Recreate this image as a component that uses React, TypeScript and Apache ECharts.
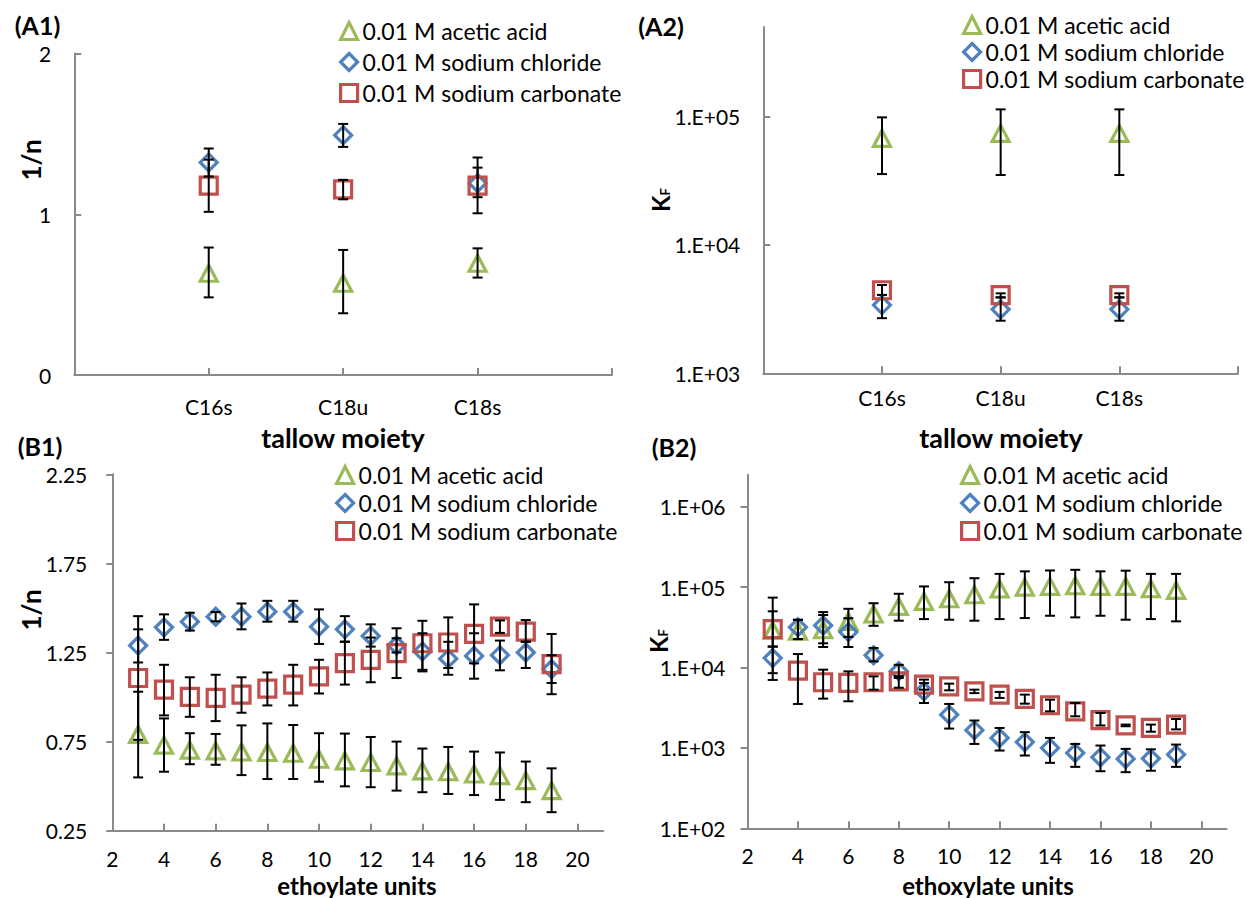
import React, { useEffect, useRef } from 'react';
import * as echarts from 'echarts';

const FONT = 'Lato';
const AXIS_COLOR = '#8a8a8a';

const SERIES_NAMES = ['0.01 M acetic acid', '0.01 M sodium chloride', '0.01 M sodium carbonate'];
const COLORS = ['#9BBB59', '#4F81BD', '#C0504D'];
const SYMBOLS = ['triangle', 'diamond', 'rect'];

// ---- Panel A1 / A2: tallow moiety ----
const MOIETIES = ['C16s', 'C18u', 'C18s'];
const MOIETY_POS = [1, 2, 3];

const A1_ACETIC = [0.633, 0.571, 0.695];
const A1_ACETIC_LO = [0.483, 0.384, 0.606];
const A1_ACETIC_HI = [0.793, 0.778, 0.788];
const A1_NACL = [1.322, 1.492, 1.193];
const A1_NACL_LO = [1.235, 1.419, 1.106];
const A1_NACL_HI = [1.409, 1.562, 1.29];
const A1_NA2CO3 = [1.178, 1.155, 1.178];
const A1_NA2CO3_LO = [1.015, 1.093, 1.006];
const A1_NA2CO3_HI = [1.34, 1.214, 1.353];

const A2_ACETIC = [67800, 74100, 74100];
const A2_ACETIC_LO = [35700, 35100, 35100];
const A2_ACETIC_HI = [98800, 114000, 114000];
const A2_NACL = [3400, 3150, 3150];
const A2_NACL_LO = [2690, 2570, 2570];
const A2_NACL_HI = [4080, 3900, 3900];
const A2_NA2CO3 = [4440, 4070, 4070];
const A2_NA2CO3_LO = [4080, 3910, 3910];
const A2_NA2CO3_HI = [4880, 4200, 4200];

// ---- Panel B1 / B2: ethoxylate units ----
const EO_UNITS = [3, 4, 5, 6, 7, 8, 9, 10, 11, 12, 13, 14, 15, 16, 17, 18, 19];

const B1_ACETIC = [0.79, 0.73, 0.702, 0.698, 0.692, 0.689, 0.685, 0.651, 0.642, 0.633, 0.614, 0.586, 0.581, 0.568, 0.559, 0.531, 0.475];
const B1_ACETIC_LO = [0.549, 0.581, 0.623, 0.62, 0.562, 0.54, 0.54, 0.525, 0.499, 0.494, 0.475, 0.466, 0.456, 0.45, 0.423, 0.41, 0.354];
const B1_ACETIC_HI = [1.03, 0.88, 0.797, 0.793, 0.841, 0.852, 0.843, 0.797, 0.795, 0.776, 0.75, 0.711, 0.72, 0.694, 0.689, 0.638, 0.6];
const B1_NACL = [1.289, 1.391, 1.423, 1.451, 1.451, 1.479, 1.479, 1.395, 1.38, 1.343, 1.29, 1.256, 1.215, 1.231, 1.235, 1.25, 1.157];
const B1_NACL_LO = [1.194, 1.321, 1.373, 1.425, 1.38, 1.423, 1.423, 1.298, 1.311, 1.283, 1.25, 1.144, 1.125, 1.103, 1.15, 1.163, 1.079];
const B1_NACL_HI = [1.38, 1.464, 1.473, 1.477, 1.525, 1.54, 1.54, 1.492, 1.454, 1.408, 1.33, 1.358, 1.31, 1.358, 1.317, 1.311, 1.235];
const B1_NA2CO3 = [1.107, 1.042, 1.001, 0.995, 1.014, 1.047, 1.07, 1.116, 1.19, 1.209, 1.246, 1.302, 1.306, 1.354, 1.395, 1.367, 1.185];
const B1_NA2CO3_LO = [0.76, 0.897, 0.889, 0.865, 0.912, 0.953, 0.953, 1.02, 1.07, 1.083, 1.107, 1.153, 1.163, 1.189, 1.36, 1.31, 1.016];
const B1_NA2CO3_HI = [1.454, 1.181, 1.111, 1.125, 1.111, 1.138, 1.181, 1.209, 1.31, 1.334, 1.386, 1.428, 1.447, 1.52, 1.43, 1.432, 1.354];

const B2_ACETIC = [29000, 28200, 29500, 37400, 46200, 57500, 66400, 71600, 80400, 94500, 100000, 102000, 104000, 102000, 102000, 95300, 91000];
const B2_ACETIC_LO = [8500, 22600, 20000, 24000, 33000, 38200, 40000, 39300, 38200, 40000, 41200, 44000, 42000, 44000, 39300, 40000, 37500];
const B2_ACETIC_HI = [74000, 39200, 45000, 53700, 63000, 82600, 101900, 115000, 129000, 146000, 157000, 161000, 164000, 157000, 160000, 146000, 146000];
const B2_NACL = [13100, 31600, 33400, 27600, 14200, 8960, 5060, 2590, 1660, 1330, 1180, 1000, 867, 766, 730, 736, 827];
const B2_NACL_LO = [7000, 22500, 18000, 18000, 11900, 7400, 3620, 1740, 1120, 927, 804, 652, 581, 513, 499, 520, 581];
const B2_NACL_HI = [18200, 39200, 48900, 41000, 17500, 10800, 6400, 3520, 2190, 1770, 1570, 1330, 1120, 1070, 972, 960, 1100];
const B2_NA2CO3 = [30000, 9140, 6550, 6420, 6550, 6730, 6120, 5840, 5060, 4600, 4060, 3390, 2850, 2210, 1910, 1770, 1950];
const B2_NA2CO3_LO = [18200, 3520, 4100, 3800, 5300, 5600, 5300, 5200, 4800, 4180, 3550, 2850, 2470, 1900, 1860, 1590, 1700];
const B2_NA2CO3_HI = [50000, 14700, 9400, 8950, 7760, 7800, 7070, 6300, 5300, 4970, 4600, 3980, 3620, 2720, 1950, 1950, 2290];

// ---- ticks ----
const A1_Y_TICKS = [0, 1, 2];
const A_X_TICKS = [1, 2, 3, 4];
const A2_Y_TICKS = [1000, 10000, 100000];
const B1_Y_TICKS = [0.25, 0.75, 1.25, 1.75, 2.25];
const EO_TICKS = [2, 4, 6, 8, 10, 12, 14, 16, 18, 20];
const B2_Y_TICKS = [100, 1000, 10000, 100000, 1000000];

const sci = (v: number) => {
  const e = Math.round(Math.log10(v));
  return '1.E+' + String(e).padStart(2, '0');
};

const errRender = (params: any, api: any) => {
  const x = api.value(0);
  const lo = api.coord([x, api.value(1)]);
  const hi = api.coord([x, api.value(2)]);
  const hw = 5;
  const style = { stroke: '#000', lineWidth: 2 };
  return {
    type: 'group',
    children: [
      { type: 'line', shape: { x1: lo[0], y1: lo[1], x2: hi[0], y2: hi[1] }, style },
      { type: 'line', shape: { x1: lo[0] - hw, y1: lo[1], x2: lo[0] + hw, y2: lo[1] }, style },
      { type: 'line', shape: { x1: hi[0] - hw, y1: hi[1], x2: hi[0] + hw, y2: hi[1] }, style },
    ],
  };
};

const SYMBOL_SIZES: any[] = [[17, 16], [17, 17], [17, 17]];

function panelSeries(idx: number, xs: number[], groups: number[][][]) {
  const out: any[] = [];
  groups.forEach((g, k) => {
    const [vals, los, his] = g;
    out.push({
      name: SERIES_NAMES[k],
      type: 'scatter',
      xAxisIndex: idx,
      yAxisIndex: idx,
      symbol: SYMBOLS[k],
      symbolSize: SYMBOL_SIZES[k],
      itemStyle: { color: 'rgba(0,0,0,0)', borderColor: COLORS[k], borderWidth: 3.2, opacity: 1 },
      data: xs.map((x, j) => [x, vals[j]]),
      z: 3,
      silent: true,
    });
    out.push({
      type: 'custom',
      xAxisIndex: idx,
      yAxisIndex: idx,
      renderItem: errRender,
      encode: { x: 0, y: [1, 2] },
      data: xs.map((x, j) => [x, los[j], his[j]]),
      z: 4,
      silent: true,
    });
  });
  return out;
}

const axisLine = { show: true, onZero: false, lineStyle: { color: AXIS_COLOR, width: 2 } };
const labelBase = { color: '#000', fontFamily: FONT, fontSize: 21 };

function legendFor(left: number, top: number, gap: number) {
  return {
    orient: 'vertical',
    left,
    top,
    itemWidth: 17,
    itemHeight: 17,
    itemGap: gap,
    padding: 0,
    selectedMode: false,
    textStyle: { fontFamily: FONT, fontSize: 23, color: '#000', lineHeight: 24 },
    data: SERIES_NAMES.map((n, i) => ({
      name: n,
      icon: SYMBOLS[i],
      itemStyle: { color: 'rgba(0,0,0,0)', borderColor: COLORS[i], borderWidth: 3.2, opacity: 1 },
    })),
  };
}

function txt(x: number, y: number, text: string, size: number, rot = 0): any {
  return {
    type: 'text',
    x,
    y,
    rotation: rot,
    silent: true,
    style: {
      text,
      fill: '#000',
      fontFamily: FONT,
      fontWeight: 'bold',
      fontSize: size,
      textAlign: 'center',
      textVerticalAlign: 'middle',
      align: 'center',
      verticalAlign: 'middle',
    },
  };
}

function kf(x: number, y: number): any {
  return {
    type: 'text',
    x,
    y,
    rotation: Math.PI / 2,
    silent: true,
    style: {
      text: '{k|K}{f|F}',
      textAlign: 'center',
      textVerticalAlign: 'middle',
      align: 'center',
      verticalAlign: 'middle',
      rich: {
        k: { fontFamily: FONT, fontWeight: 'bold', fontSize: 24, fill: '#000', color: '#000', lineHeight: 26 },
        f: { fontFamily: FONT, fontWeight: 'bold', fontSize: 13, fill: '#000', color: '#000', padding: [10, 0, 0, 0] },
      },
    },
  };
}

export default function App() {
  const ref = useRef<HTMLDivElement>(null);
  useEffect(() => {
    if (!ref.current) return;
    const chart = echarts.init(ref.current, undefined, { renderer: 'svg' });
    const option: any = {
      animation: false,
      backgroundColor: '#fff',
      textStyle: { fontFamily: FONT },
      grid: [
        { left: 74.3, top: 53.5, width: 537.7, height: 321.5, containLabel: false, outerBoundsMode: 'none' },
        { left: 763.3, top: 27, width: 474.7, height: 346.3, containLabel: false, outerBoundsMode: 'none' },
        { left: 112.3, top: 474.3, width: 491, height: 356.4, containLabel: false, outerBoundsMode: 'none' },
        { left: 747.5, top: 474.7, width: 479, height: 353.6, containLabel: false, outerBoundsMode: 'none' },
      ],
      xAxis: [
        {
          type: 'value', gridIndex: 0, min: 0, max: 4, interval: 1,
          axisLine, splitLine: { show: false },
          axisTick: { show: true, inside: true, length: 7, lineStyle: { color: AXIS_COLOR, width: 2 }, customValues: A_X_TICKS },
          axisLabel: { ...labelBase, margin: 21, customValues: MOIETY_POS, formatter: (v: number) => MOIETIES[Math.round(v) - 1] ?? '' },
        },
        {
          type: 'value', gridIndex: 1, min: 0, max: 4, interval: 1,
          axisLine, splitLine: { show: false },
          axisTick: { show: true, inside: true, length: 7, lineStyle: { color: AXIS_COLOR, width: 2 }, customValues: A_X_TICKS },
          axisLabel: { ...labelBase, margin: 14, customValues: MOIETY_POS, formatter: (v: number) => MOIETIES[Math.round(v) - 1] ?? '' },
        },
        {
          type: 'value', gridIndex: 2, min: 2, max: 21, interval: 2,
          axisLine, splitLine: { show: false },
          axisTick: { show: true, inside: true, length: 7, lineStyle: { color: AXIS_COLOR, width: 2 }, customValues: EO_TICKS },
          axisLabel: { ...labelBase, margin: 17, customValues: EO_TICKS, formatter: (v: number) => (EO_TICKS.includes(v) ? String(v) : '') },
        },
        {
          type: 'value', gridIndex: 3, min: 2, max: 21, interval: 2,
          axisLine, splitLine: { show: false },
          axisTick: { show: true, inside: true, length: 7, lineStyle: { color: AXIS_COLOR, width: 2 }, customValues: EO_TICKS },
          axisLabel: { ...labelBase, margin: 17, customValues: EO_TICKS, formatter: (v: number) => (EO_TICKS.includes(v) ? String(v) : '') },
        },
      ],
      yAxis: [
        {
          type: 'value', gridIndex: 0, min: 0, max: 2, interval: 1,
          axisLine, splitLine: { show: false },
          axisTick: { show: true, inside: true, length: 7, lineStyle: { color: AXIS_COLOR, width: 2 }, customValues: A1_Y_TICKS },
          axisLabel: { ...labelBase, margin: 23, customValues: A1_Y_TICKS },
        },
        {
          type: 'log', logBase: 10, gridIndex: 1, min: 1000, max: 500000,
          axisLine, splitLine: { show: false },
          axisTick: { show: true, inside: true, length: 7, lineStyle: { color: AXIS_COLOR, width: 2 }, customValues: A2_Y_TICKS },
          axisLabel: { ...labelBase, margin: 23, customValues: A2_Y_TICKS, formatter: sci },
        },
        {
          type: 'value', gridIndex: 2, min: 0.25, max: 2.25, interval: 0.5,
          axisLine, splitLine: { show: false },
          axisTick: { show: true, inside: false, length: 6, lineStyle: { color: AXIS_COLOR, width: 2 }, customValues: B1_Y_TICKS },
          axisLabel: { ...labelBase, margin: 25, customValues: B1_Y_TICKS, formatter: (v: number) => v.toFixed(2) },
        },
        {
          type: 'log', logBase: 10, gridIndex: 3, min: 100, max: 2500000,
          axisLine, splitLine: { show: false },
          axisTick: { show: true, inside: false, length: 7, lineStyle: { color: AXIS_COLOR, width: 2 }, customValues: B2_Y_TICKS },
          axisLabel: { ...labelBase, margin: 22, customValues: B2_Y_TICKS, formatter: sci },
        },
      ],
      legend: [
        legendFor(339, 19, 7),
        legendFor(962, 13, 3),
        legendFor(335, 463, 4),
        legendFor(960, 463, 4),
      ],
      graphic: [
        txt(37.5, 25, '(A1)', 25),
        txt(661, 26, '(A2)', 25),
        txt(40, 446, '(B1)', 25),
        txt(674, 447, '(B2)', 25),
        txt(343, 437, 'tallow moiety', 27),
        txt(1001, 437, 'tallow moiety', 27),
        txt(357, 885, 'ethoylate units', 24),
        txt(988, 885, 'ethoxylate units', 24),
        txt(31, 160, '1/n', 26, Math.PI / 2),
        txt(31, 610, '1/n', 26, Math.PI / 2),
        kf(660, 200),
        kf(658, 641),
      ],
      series: [
        ...panelSeries(0, MOIETY_POS, [
          [A1_ACETIC, A1_ACETIC_LO, A1_ACETIC_HI],
          [A1_NACL, A1_NACL_LO, A1_NACL_HI],
          [A1_NA2CO3, A1_NA2CO3_LO, A1_NA2CO3_HI],
        ]),
        ...panelSeries(1, MOIETY_POS, [
          [A2_ACETIC, A2_ACETIC_LO, A2_ACETIC_HI],
          [A2_NACL, A2_NACL_LO, A2_NACL_HI],
          [A2_NA2CO3, A2_NA2CO3_LO, A2_NA2CO3_HI],
        ]),
        ...panelSeries(2, EO_UNITS, [
          [B1_ACETIC, B1_ACETIC_LO, B1_ACETIC_HI],
          [B1_NACL, B1_NACL_LO, B1_NACL_HI],
          [B1_NA2CO3, B1_NA2CO3_LO, B1_NA2CO3_HI],
        ]),
        ...panelSeries(3, EO_UNITS, [
          [B2_ACETIC, B2_ACETIC_LO, B2_ACETIC_HI],
          [B2_NACL, B2_NACL_LO, B2_NACL_HI],
          [B2_NA2CO3, B2_NA2CO3_LO, B2_NA2CO3_HI],
        ]),
      ],
    };
    chart.setOption(option);
    return () => chart.dispose();
  }, []);
  return (
    <div
      ref={ref}
      style={{ position: 'absolute', left: 0, top: 0, width: 1247, height: 898, background: '#fff' }}
    />
  );
}
